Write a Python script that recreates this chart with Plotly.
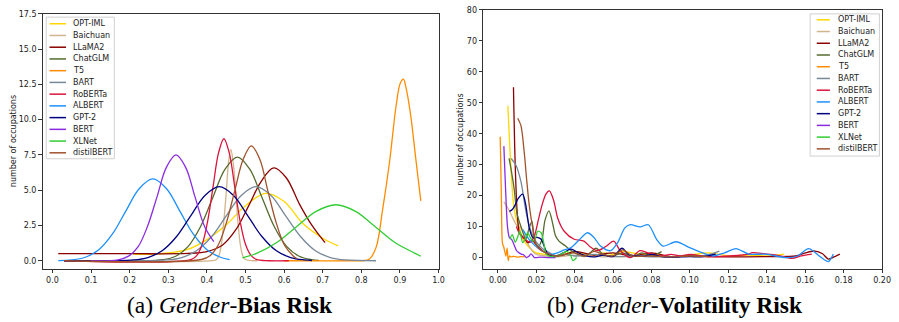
import plotly.graph_objects as go

W, H = 899, 322

MODELS = ["OPT-IML", "Baichuan", "LLaMA2", "ChatGLM", "T5", "BART",
          "RoBERTa", "ALBERT", "GPT-2", "BERT", "XLNet", "distilBERT"]
COLORS = ["#FFD700", "#D2B48C", "#8B0000", "#556B2F", "#FF8C00", "#778899",
          "#DC143C", "#1E90FF", "#000080", "#8A2BE2", "#32CD32", "#A0522D"]

# ---------------- (a) Gender-Bias Risk ----------------
BIAS_OPT_IML_X = [0.21, 0.30, 0.35, 0.40, 0.45, 0.50, 0.552, 0.60, 0.65, 0.70, 0.74]
BIAS_OPT_IML_Y = [0.45, 0.55, 0.8, 1.5, 2.55, 3.9, 4.78, 4.2, 2.6, 1.6, 1.05]
BIAS_BAICHUAN_X = [0.03, 0.42, 0.425, 0.431, 0.437, 0.443, 0.45, 0.456, 0.462, 0.468, 0.475, 0.481, 0.487, 0.493, 0.50, 0.53]
BIAS_BAICHUAN_Y = [0.0, 0.03, 0.09, 0.35, 1.07, 2.56, 4.79, 6.97, 7.9, 6.97, 4.79, 2.56, 1.07, 0.35, 0.09, 0.0]
BIAS_LLAMA2_X = [0.015, 0.2, 0.35, 0.40, 0.44, 0.475, 0.51, 0.54, 0.573, 0.605, 0.64, 0.67, 0.706]
BIAS_LLAMA2_Y = [0.5, 0.5, 0.52, 0.65, 1.1, 2.2, 4.0, 5.6, 6.58, 5.9, 4.0, 2.6, 1.28]
BIAS_CHATGLM_X = [0.03, 0.287, 0.319, 0.351, 0.383, 0.415, 0.447, 0.479, 0.511, 0.543, 0.575, 0.607, 0.639, 0.671, 0.69]
BIAS_CHATGLM_Y = [0.0, 0.08, 0.32, 1.0, 2.39, 4.46, 6.49, 7.35, 6.49, 4.46, 2.39, 1.0, 0.32, 0.08, 0.03]
BIAS_T5_X = [0.60, 0.78, 0.809, 0.821, 0.838, 0.855, 0.873, 0.89, 0.901, 0.909, 0.915, 0.928, 0.941, 0.954]
BIAS_T5_Y = [0.0, 0.0, 0.02, 0.12, 0.93, 3.6, 7.0, 10.97, 12.6, 12.88, 12.36, 10.27, 7.23, 4.25]
BIAS_BART_X = [0.03, 0.296, 0.335, 0.373, 0.412, 0.45, 0.489, 0.527, 0.566, 0.604, 0.643, 0.681, 0.72, 0.758, 0.838]
BIAS_BART_Y = [0.0, 0.06, 0.23, 0.71, 1.70, 3.18, 4.63, 5.25, 4.63, 3.18, 1.70, 0.71, 0.23, 0.06, 0.0]
BIAS_ROBERTA_X = [0.03, 0.36, 0.374, 0.388, 0.402, 0.416, 0.43, 0.444, 0.458, 0.472, 0.486, 0.50, 0.514, 0.528, 0.56, 0.612]
BIAS_ROBERTA_Y = [0.0, 0.1, 0.38, 1.17, 2.81, 5.25, 7.63, 8.65, 7.63, 5.25, 2.81, 1.17, 0.38, 0.1, 0.0, 0.0]
BIAS_ALBERT_X = [0.015, 0.05, 0.085, 0.12, 0.155, 0.19, 0.225, 0.26, 0.295, 0.33, 0.365, 0.40, 0.435, 0.459]
BIAS_ALBERT_Y = [0.01, 0.06, 0.25, 0.78, 1.88, 3.52, 5.12, 5.8, 5.12, 3.52, 1.88, 0.78, 0.25, 0.08]
BIAS_GPT2_X = [0.03, 0.21, 0.247, 0.284, 0.321, 0.358, 0.395, 0.432, 0.469, 0.506, 0.543, 0.58, 0.617, 0.654, 0.672]
BIAS_GPT2_Y = [0.0, 0.06, 0.23, 0.71, 1.70, 3.18, 4.63, 5.25, 4.63, 3.18, 1.70, 0.71, 0.23, 0.06, 0.02]
BIAS_BERT_X = [0.10, 0.17, 0.197, 0.222, 0.246, 0.271, 0.295, 0.32, 0.345, 0.369, 0.394, 0.418]
BIAS_BERT_Y = [0.0, 0.07, 0.33, 1.0, 2.43, 4.55, 6.62, 7.5, 6.62, 4.55, 2.43, 1.35]
BIAS_XLNET_X = [0.492, 0.53, 0.581, 0.632, 0.683, 0.734, 0.785, 0.836, 0.887, 0.938, 0.954]
BIAS_XLNET_Y = [0.2, 0.54, 1.29, 2.41, 3.5, 3.97, 3.5, 2.41, 1.29, 0.54, 0.32]
BIAS_DISTILBERT_X = [0.03, 0.386, 0.408, 0.429, 0.45, 0.472, 0.494, 0.515, 0.537, 0.558, 0.58, 0.601, 0.623, 0.633]
BIAS_DISTILBERT_Y = [0.0, 0.09, 0.36, 1.1, 2.65, 4.94, 7.19, 8.15, 7.19, 4.94, 2.65, 1.1, 0.36, 0.15]

# ---------------- (b) Gender-Volatility Risk ----------------
VOL_OPT_IML_X = [0.0052, 0.006, 0.0069, 0.008, 0.0094, 0.0112, 0.013, 0.016, 0.02, 0.025, 0.03, 0.035, 0.04, 0.045, 0.05, 0.055, 0.06, 0.065, 0.07, 0.075, 0.08, 0.09, 0.1, 0.11, 0.12, 0.13, 0.14, 0.149]
VOL_OPT_IML_Y = [49, 38, 27.7, 18, 12.8, 9.6, 6, 3.5, 1.5, 1.0, 0.5, 1.2, 2.0, 1.0, 0.5, 1.5, 1.0, 2.0, 1.5, 1.0, 1.2, 0.2, 0.8, 1.5, 0.5, 0.8, 0.5, 1.1]
VOL_BAICHUAN_X = [0.0031, 0.0052, 0.0077, 0.0103, 0.012, 0.014, 0.016, 0.018, 0.02, 0.025, 0.03, 0.035, 0.04, 0.045, 0.05, 0.055, 0.06, 0.065, 0.07]
VOL_BAICHUAN_Y = [18, 16, 12.8, 10, 9.6, 7, 4, 2, 1, 0.5, 0.2, 0.5, 0.8, 0.3, 0.6, 0.2, 0.4, 0.2, 0.3]
VOL_LLAMA2_X = [0.0081, 0.009, 0.0101, 0.0112, 0.0125, 0.014, 0.0156, 0.018, 0.02, 0.025, 0.03, 0.035, 0.04, 0.05, 0.06, 0.07, 0.08, 0.09, 0.1, 0.12, 0.14, 0.155, 0.16, 0.165, 0.169, 0.172, 0.175, 0.178]
VOL_LLAMA2_Y = [55, 30, 14, 8, 7, 6, 4.8, 5.5, 4, 1.5, 0.5, 1.0, 2.0, 0.8, 1.5, 0.5, 1.5, 0.3, 0.5, 0.2, 0.3, 0.5, 1.5, 2.1, 1.2, -0.5, 0.2, 1.1]
VOL_CHATGLM_X = [0.0058, 0.007, 0.0085, 0.01, 0.012, 0.0145, 0.016, 0.0177, 0.019, 0.021, 0.023, 0.0245, 0.0266, 0.0285, 0.03, 0.0318, 0.0352, 0.04, 0.045, 0.048, 0.051, 0.055, 0.06, 0.065, 0.07, 0.075, 0.08, 0.0852]
VOL_CHATGLM_Y = [32, 28, 22, 14, 10, 6, 9, 11.7, 6, 3.5, 6, 12, 15.1, 11, 7, 5.3, 3.7, 1.5, 0.5, 1.5, 3, 1.0, 0.5, 1.5, 0.3, 1.5, 0.5, 1.9]
VOL_T5_X = [0.0012, 0.0018, 0.0024, 0.003, 0.0036, 0.0042, 0.0048, 0.0054, 0.006, 0.007, 0.008, 0.01, 0.012, 0.014]
VOL_T5_Y = [39, 20, 4.5, 3.5, 1.8, 0.5, 3.0, -1.0, 0.5, 0.2, 0.4, 0.1, 0.3, 0.2]
VOL_BART_X = [0.0069, 0.0094, 0.012, 0.0146, 0.0172, 0.02, 0.023, 0.027, 0.03, 0.035, 0.04, 0.05, 0.06, 0.07, 0.08, 0.09, 0.1, 0.105, 0.11, 0.1153]
VOL_BART_Y = [32, 29.8, 24.5, 14.9, 8.5, 5, 3, 1.5, 0.5, 1.0, 0.5, 1.0, 0.3, 0.5, 0.2, 0.3, 0.4, 0.5, 1.0, 2.1]
VOL_ROBERTA_X = [0.0096, 0.011, 0.013, 0.015, 0.017, 0.019, 0.021, 0.023, 0.025, 0.0268, 0.029, 0.0311, 0.0345, 0.0397, 0.0448, 0.048, 0.0517, 0.056, 0.0603, 0.0637, 0.069, 0.074, 0.078, 0.085, 0.09, 0.095, 0.1, 0.11, 0.12, 0.13, 0.1325, 0.139, 0.145, 0.153, 0.158, 0.1634]
VOL_ROBERTA_Y = [10, 8, 6.5, 5.5, 5, 7, 12, 17, 20.5, 21.5, 18.5, 12.8, 8.5, 5.9, 5.3, 3.5, 2.2, 3.5, 5.3, 2.2, 0, 2.2, 1.5, 0.5, 1.0, 0.5, 1.0, 0.2, 0.5, 1.0, 1.6, 1.2, 0.8, -0.3, 0.5, 1.1]
VOL_ALBERT_X = [0.013, 0.016, 0.019, 0.022, 0.025, 0.028, 0.031, 0.0345, 0.0381, 0.042, 0.0466, 0.05, 0.0534, 0.0586, 0.0625, 0.066, 0.0689, 0.074, 0.0783, 0.0826, 0.086, 0.0929, 0.0998, 0.1084, 0.112, 0.118, 0.1239, 0.1307, 0.1393, 0.1496, 0.156, 0.1617, 0.1677, 0.172, 0.1746]
VOL_ALBERT_Y = [9, 6, 4, 2.5, 1.5, 1.0, 1.5, 2.5, 3.2, 5.5, 8.0, 6.5, 3.7, 2.2, 5, 9.5, 10.6, 9.9, 10.6, 5.9, 3.7, 5.1, 3.2, 1.1, 0.5, 1.5, 2.9, 1.1, 1.1, 0, 0.5, 2.9, 0.3, -1.3, 1.1]
VOL_GPT2_X = [0.006, 0.0075, 0.009, 0.0105, 0.0129, 0.0145, 0.0163, 0.0182, 0.0205, 0.0225, 0.026, 0.03, 0.034, 0.038, 0.042, 0.046, 0.05, 0.055, 0.06, 0.0646, 0.068, 0.072, 0.076, 0.08, 0.085, 0.09, 0.1, 0.106, 0.1134]
VOL_GPT2_Y = [14.9, 15.5, 17, 19, 20.5, 17, 9.6, 6.4, 6.5, 5.9, 1.1, 0.5, 1.5, 2.7, 1.5, 0.5, 0.2, 0.8, 0.3, 3.0, 1.0, 0.5, 0.5, 1.0, 0.3, 0.1, 0.3, 0.2, 1.1]
VOL_BERT_X = [0.0031, 0.004, 0.005, 0.006, 0.0072, 0.0085, 0.0097, 0.011, 0.0122, 0.0135, 0.0148, 0.016, 0.0172, 0.019, 0.022, 0.026, 0.030]
VOL_BERT_Y = [36, 22, 10, 6.4, 5.8, 4.0, 2.2, 1.5, 1.1, 0.8, 0.0, 0.3, 1.2, 0.0, 0.1, 0.0, 0.0]
VOL_XLNET_X = [0.0062, 0.0075, 0.009, 0.0105, 0.0114, 0.0129, 0.0142, 0.0155, 0.0168, 0.0181, 0.0194, 0.0207, 0.0225, 0.0238, 0.0252, 0.028, 0.031, 0.034, 0.036, 0.038, 0.039, 0.041]
VOL_XLNET_Y = [5.9, 7.4, 5, 7, 8.5, 4.8, 6, 8, 6.5, 5.3, 6, 8.5, 8, 5, 1, 0.3, 0.5, 1.5, 2, 0.5, -1, 0]
VOL_DISTILBERT_X = [0.0103, 0.012, 0.0137, 0.015, 0.0163, 0.018, 0.0198, 0.022, 0.025, 0.03, 0.035, 0.04, 0.045, 0.05, 0.055, 0.06, 0.065, 0.07, 0.08, 0.09, 0.1, 0.11]
VOL_DISTILBERT_Y = [45, 42.6, 34, 25, 17, 10, 4.3, 2.5, 1.5, 0.5, 1.0, 1.5, 0.5, 2.0, 1.0, 0.5, 2.5, 0.5, 0.5, 0.2, 0.5, 0.3]

BIAS = [(BIAS_OPT_IML_X, BIAS_OPT_IML_Y), (BIAS_BAICHUAN_X, BIAS_BAICHUAN_Y), (BIAS_LLAMA2_X, BIAS_LLAMA2_Y),
        (BIAS_CHATGLM_X, BIAS_CHATGLM_Y), (BIAS_T5_X, BIAS_T5_Y), (BIAS_BART_X, BIAS_BART_Y),
        (BIAS_ROBERTA_X, BIAS_ROBERTA_Y), (BIAS_ALBERT_X, BIAS_ALBERT_Y), (BIAS_GPT2_X, BIAS_GPT2_Y),
        (BIAS_BERT_X, BIAS_BERT_Y), (BIAS_XLNET_X, BIAS_XLNET_Y), (BIAS_DISTILBERT_X, BIAS_DISTILBERT_Y)]
VOL = [(VOL_OPT_IML_X, VOL_OPT_IML_Y), (VOL_BAICHUAN_X, VOL_BAICHUAN_Y), (VOL_LLAMA2_X, VOL_LLAMA2_Y),
       (VOL_CHATGLM_X, VOL_CHATGLM_Y), (VOL_T5_X, VOL_T5_Y), (VOL_BART_X, VOL_BART_Y),
       (VOL_ROBERTA_X, VOL_ROBERTA_Y), (VOL_ALBERT_X, VOL_ALBERT_Y), (VOL_GPT2_X, VOL_GPT2_Y),
       (VOL_BERT_X, VOL_BERT_Y), (VOL_XLNET_X, VOL_XLNET_Y), (VOL_DISTILBERT_X, VOL_DISTILBERT_Y)]

BIAS_XTICKS = [0.0, 0.1, 0.2, 0.3, 0.4, 0.5, 0.6, 0.7, 0.8, 0.9, 1.0]
BIAS_YTICKS = [0.0, 2.5, 5.0, 7.5, 10.0, 12.5, 15.0, 17.5]
VOL_XTICKS = [0.00, 0.02, 0.04, 0.06, 0.08, 0.10, 0.12, 0.14, 0.16, 0.18, 0.20]
VOL_YTICKS = [0, 10, 20, 30, 40, 50, 60, 70, 80]

TITLE_A = "(a) <i>Gender</i>-<b>Bias Risk</b>"
TITLE_B = "(b) <i>Gender</i>-<b>Volatility Risk</b>"
YLABEL = "number of occupations"


def px(x):
    return x / W


def py(y):
    return 1 - y / H


fig = go.Figure()
for (xs, ys), name, col in zip(BIAS, MODELS, COLORS):
    fig.add_trace(go.Scatter(x=xs, y=ys, mode="lines", name=name, xaxis="x", yaxis="y",
                             line=dict(color=col, width=1.3, shape="spline", smoothing=1.0),
                             showlegend=False))
for (xs, ys), name, col in zip(VOL, MODELS, COLORS):
    fig.add_trace(go.Scatter(x=xs, y=ys, mode="lines", name=name, xaxis="x2", yaxis="y2",
                             line=dict(color=col, width=1.3, shape="spline", smoothing=0.8),
                             showlegend=False))

axis_common = dict(showline=True, mirror=True, linecolor="#333", linewidth=1, ticks="outside",
                   ticklen=3.5, tickwidth=0.8, tickcolor="#333", showgrid=False, zeroline=False,
                   tickfont=dict(family="DejaVu Sans", size=8, color="#222"))

fig.update_layout(
    width=W, height=H, autosize=False,
    margin=dict(l=0, r=0, t=0, b=0),
    paper_bgcolor="white", plot_bgcolor="white",
    showlegend=False,
    xaxis=dict(domain=[px(43), px(443)], range=[-0.0256, 1.0], tickvals=BIAS_XTICKS,
               tickformat=".1f", anchor="y", **axis_common),
    yaxis=dict(domain=[py(268), py(10)], range=[-0.56, 17.5], tickvals=BIAS_YTICKS,
               tickformat=".1f", anchor="x", **axis_common),
    xaxis2=dict(domain=[px(488), px(891)], range=[-0.0077, 0.2], tickvals=VOL_XTICKS,
                tickformat=".2f", anchor="y2", **axis_common),
    yaxis2=dict(domain=[py(268), py(6)], range=[-3.6, 80], tickvals=VOL_YTICKS,
                tickformat="d", anchor="x2", **axis_common),
)

annotations = []
shapes = []

# y-axis labels
for lx, ly in [(13, 139), (465, 137)]:
    annotations.append(dict(text=YLABEL, x=px(lx), y=py(ly), xref="paper", yref="paper", textangle=-90,
                            xanchor="center", yanchor="middle", showarrow=False,
                            font=dict(family="DejaVu Sans", size=8, color="#222")))

# captions
for txt, cx in [(TITLE_A, 232), (TITLE_B, 682)]:
    annotations.append(dict(text=txt, x=px(cx), y=py(305), xref="paper", yref="paper", showarrow=False,
                            xanchor="center", yanchor="middle",
                            font=dict(family="Liberation Serif", size=23.5, color="black")))


# manual legends (matplotlib-style compact legend)
def add_legend(box, line_x0, line_x1, text_x, y0, dy):
    bx0, by0, bx1, by1 = box
    shapes.append(dict(type="rect", xref="paper", yref="paper", x0=px(bx0), x1=px(bx1),
                       y0=py(by1), y1=py(by0), line=dict(color="#d0d0d0", width=1),
                       fillcolor="rgba(255,255,255,0.85)", layer="above"))
    for i, (name, col) in enumerate(zip(MODELS, COLORS)):
        yy = y0 + dy * i
        shapes.append(dict(type="line", xref="paper", yref="paper", x0=px(line_x0), x1=px(line_x1),
                           y0=py(yy), y1=py(yy), line=dict(color=col, width=1.5), layer="above"))
        annotations.append(dict(text=name, x=px(text_x), y=py(yy), xref="paper", yref="paper",
                                xanchor="left", yanchor="middle", showarrow=False,
                                font=dict(family="DejaVu Sans", size=8, color="#222")))


add_legend((46.7, 13.3, 115.5, 156.7), 50, 66.7, 72.2, 20, 11.88)
add_legend((818.3, 10, 888.3, 154), 825, 838.3, 844, 16, 11.88)

fig.update_layout(annotations=annotations, shapes=shapes)

fig.write_html("out.html", config={"displayModeBar": False},
               post_script="document.body.style.margin='0';document.body.style.padding='0';")
